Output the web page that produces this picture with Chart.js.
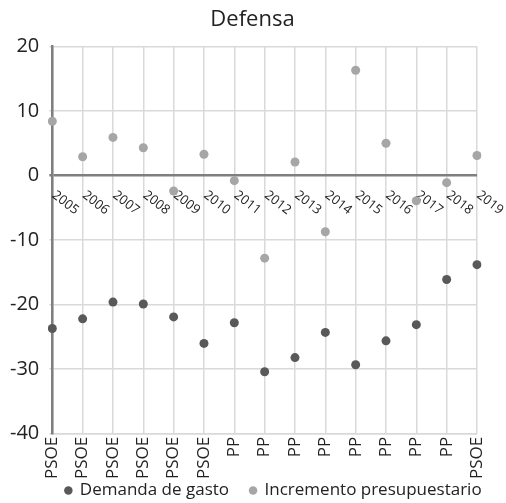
<!DOCTYPE html>
<html>
<head>
<meta charset="utf-8">
<script src="https://cdn.jsdelivr.net/npm/chart.js@4"></script>
<style>
  body { margin: 0; background: #fff; }
</style>
</head>
<body>
<canvas id="chart" width="506" height="503"></canvas>
<script>
var years = ["2005", "2006", "2007", "2008", "2009", "2010", "2011", "2012", "2013", "2014", "2015", "2016", "2017", "2018", "2019"];
var parties = ["PSOE", "PSOE", "PSOE", "PSOE", "PSOE", "PSOE", "PP", "PP", "PP", "PP", "PP", "PP", "PP", "PP", "PSOE"];
var demanda = [-23.7, -22.2, -19.6, -19.9, -21.9, -26.0, -22.8, -30.4, -28.2, -24.3, -29.3, -25.6, -23.1, -16.1, -13.8];
var incremento = [8.4, 2.9, 5.9, 4.3, -2.4, 3.3, -0.8, -12.8, 2.1, -8.7, 16.3, 5.0, -3.9, -1.1, 3.1];
var yTicks = [20, 10, 0, -10, -20, -30, -40];

var font = "'Open Sans', sans-serif";

// year labels hang under the zero line, slanting down to the right
var yearLabels = {
  id: 'yearLabels',
  beforeDatasetsDraw: function(chart) {
    var ctx = chart.ctx;
    var xs = chart.scales.x, ys = chart.scales.y;
    var y0 = ys.getPixelForValue(0);
    ctx.save();
    ctx.font = "13px " + font;
    ctx.fillStyle = "#222";
    ctx.textAlign = "left";
    ctx.textBaseline = "alphabetic";
    for (var i = 0; i < years.length; i++) {
      var x = xs.getPixelForValue(i);
      ctx.save();
      ctx.translate(x - 1, y0 + 21);
      ctx.rotate(38 * Math.PI / 180);
      ctx.fillText(years[i], 0, 0);
      ctx.restore();
    }
    ctx.restore();
  }
};

// title is centred on the whole canvas, legend sits lower and further right
var boxShift = {
  id: 'boxShift',
  afterLayout: function(chart) {
    var lg = chart.legend;
    lg.left += 35; lg.right += 35;
    lg.top -= 21; lg.bottom -= 21;
    var t = chart.titleBlock;
    t.left += 14; t.right += 14;
  }
};

new Chart(document.getElementById("chart"), {
  type: 'line',
  data: {
    labels: years,
    datasets: [
      {
        label: "Demanda de gasto",
        data: demanda,
        showLine: false,
        backgroundColor: "#595959",
        borderColor: "#595959",
        pointBackgroundColor: "#595959",
        pointBorderWidth: 0,
        pointRadius: 4.5
      },
      {
        label: "Incremento presupuestario",
        data: incremento,
        showLine: false,
        backgroundColor: "#a6a6a6",
        borderColor: "#a6a6a6",
        pointBackgroundColor: "#a6a6a6",
        pointBorderWidth: 0,
        pointRadius: 4.5
      }
    ]
  },
  options: {
    responsive: false,
    animation: false,
    layout: { padding: { left: 0, right: 29, top: 0, bottom: -27 } },
    plugins: {
      title: {
        display: true,
        text: "Defensa",
        color: "#222",
        font: { family: font, size: 22, weight: 'normal' },
        padding: { top: 7, bottom: 13 }
      },
      legend: {
        position: 'bottom',
        labels: {
          usePointStyle: true,
          pointStyle: 'circle',
          boxWidth: 6,
          boxHeight: 6,
          padding: 21,
          color: "#222",
          font: { family: font, size: 17 }
        }
      },
      tooltip: { enabled: false }
    },
    scales: {
      x: {
        type: 'category',
        labels: parties,
        offset: false,
        grid: { color: "#d9d9d9", lineWidth: 1.5, drawTicks: false },
        border: { color: "#d9d9d9", width: 1.5 },
        ticks: {
          autoSkip: false,
          minRotation: 90,
          maxRotation: 90,
          padding: 3,
          color: "#222",
          font: { family: font, size: 17 }
        }
      },
      y: {
        min: -40,
        max: 20,
        afterBuildTicks: function(axis) {
          axis.ticks = yTicks.map(function(v) { return { value: v }; });
        },
        grid: {
          color: function(c) { return c.tick && c.tick.value === 0 ? "#7f7f7f" : "#d9d9d9"; },
          lineWidth: function(c) { return c.tick && c.tick.value === 0 ? 2.5 : 1.5; },
          tickLength: 3
        },
        border: { color: "#7f7f7f", width: 2.5 },
        ticks: {
          padding: 10,
          color: "#222",
          font: { family: font, size: 20 }
        }
      }
    }
  },
  plugins: [yearLabels, boxShift]
});
</script>
</body>
</html>
